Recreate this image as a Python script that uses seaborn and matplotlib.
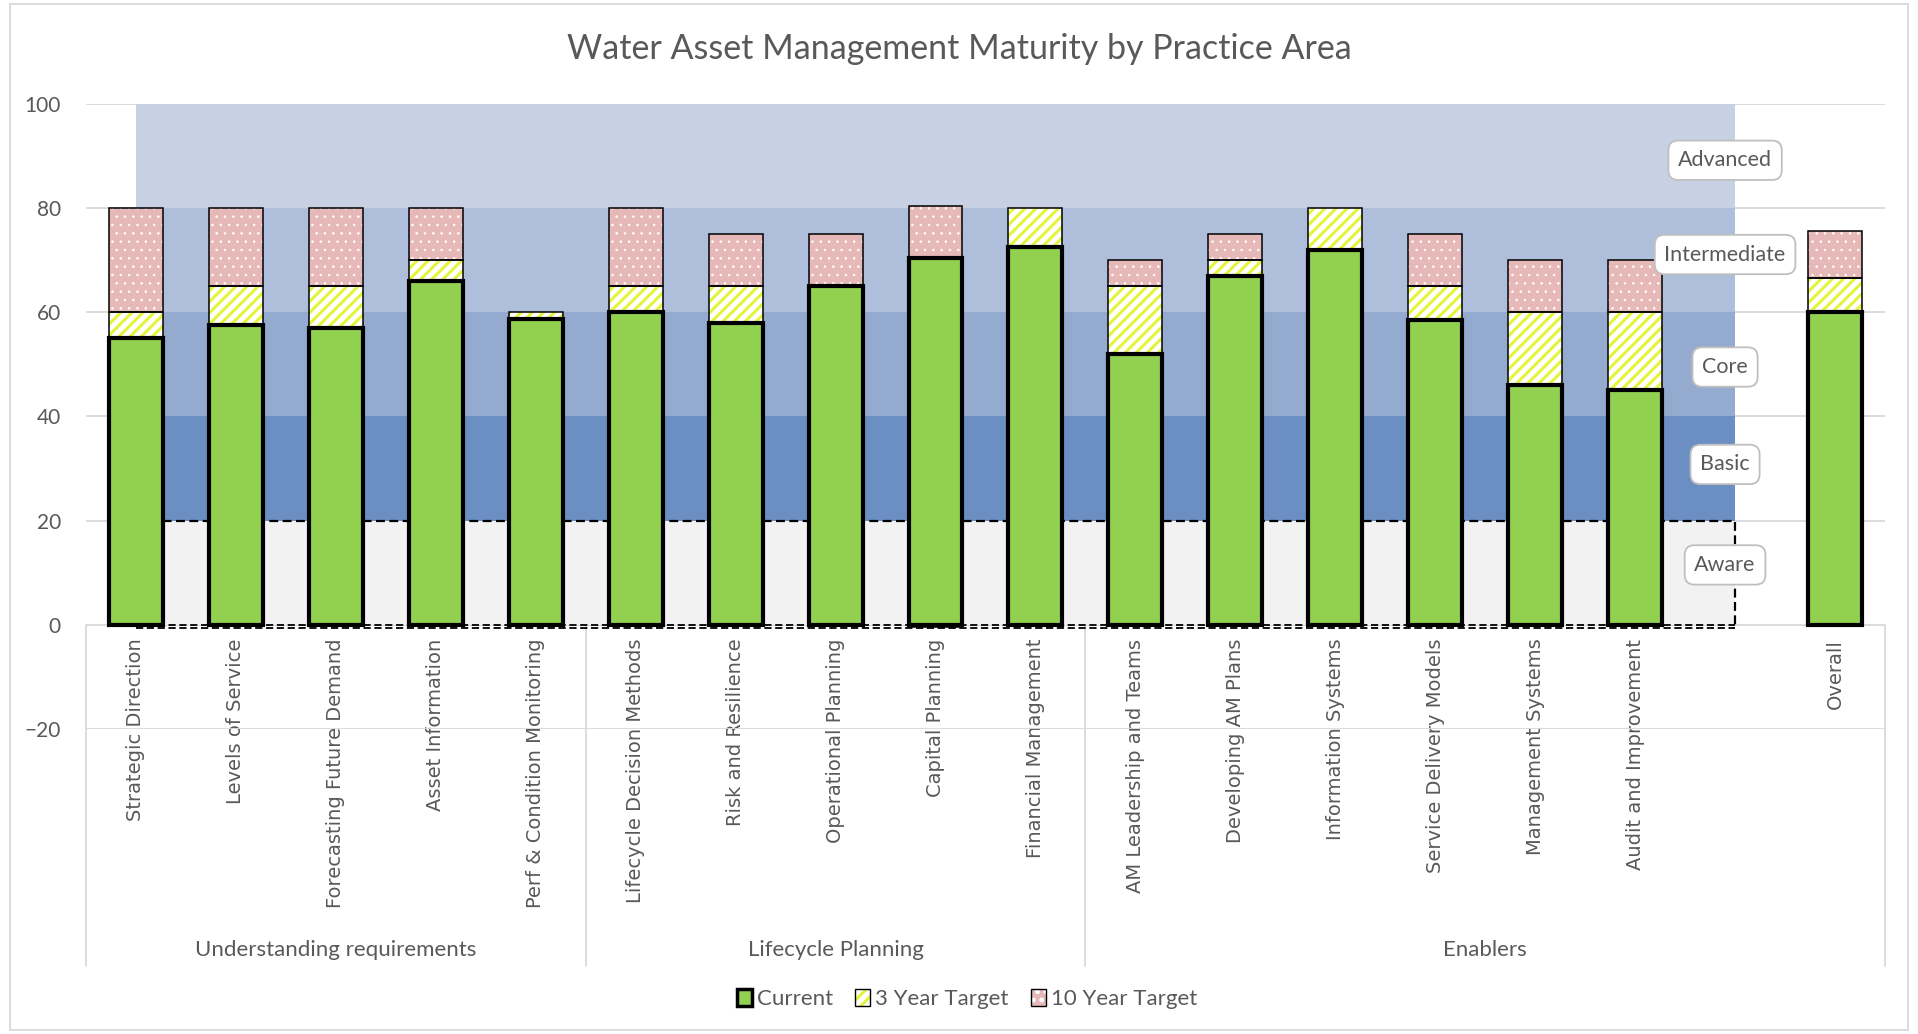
import matplotlib
matplotlib.use("Agg")
import matplotlib.pyplot as plt
import seaborn as sns
import pandas as pd
import numpy as np
from matplotlib.patches import Patch, Rectangle
from matplotlib.legend_handler import HandlerTuple

# ---- data -------------------------------------------------------------
practices = [
    "Strategic Direction", "Levels of Service", "Forecasting Future Demand",
    "Asset Information", "Perf & Condition Monitoring",
    "Lifecycle Decision Methods", "Risk and Resilience", "Operational Planning",
    "Capital Planning", "Financial Management",
    "AM Leadership and Teams", "Developing AM Plans", "Information Systems",
    "Service Delivery Models", "Management Systems", "Audit and Improvement",
    "Overall",
]
current = [55, 57.5, 57, 66, 58.8, 60, 58, 65, 70.4, 72.5,
           52, 67, 72, 58.6, 46, 45, 60.1]
target_3yr = [60, 65, 65, 70, 60, 65, 65, 65, 70, 80,
              65, 70, 80, 65, 60, 60, 66.6]
target_10yr = [80, 80, 80, 80, 60, 80, 75, 75, 80, 80,
               70, 75, 80, 75, 70, 70, 75.6]

groups = ["Understanding requirements", "Lifecycle Planning", "Enablers"]
group_sizes = [5, 5, 8]          # slots per group (Enablers includes gap + Overall)

levels = ["Aware", "Basic", "Core", "Intermediate", "Advanced"]
level_edges = [0, 20, 40, 60, 80, 100]
level_colors = ["#f2f2f2", "#6b8fc2", "#95aacf", "#afbfdb", "#c8d1e3"]

GREEN = "#92d050"
YELLOW = "#e4f43a"
PINK = "#e6b8b7"
TEXT = "#595959"
GRID = "#d9d9d9"

# ---- styling ----------------------------------------------------------
sns.set_theme(style="white")
plt.rcParams["font.family"] = ["Lato", "DejaVu Sans"]
plt.rcParams["hatch.linewidth"] = 2.2

fig = plt.figure(figsize=(19.18, 10.34), dpi=100)
ax = fig.add_axes([0.0448, 0.295, 0.9380, 0.6044])

# category slots: 16 practices, an empty gap, then Overall
slots = practices[:16] + [" "] + ["Overall"]
pos = {name: i for i, name in enumerate(slots)}
xs = np.array([pos[p] for p in practices], dtype=float)

df = pd.DataFrame({"practice": practices, "current": current})

# maturity bands behind the bars
band_x = [0, pos[" "]]
for lo, hi, col in zip(level_edges[:-1], level_edges[1:], level_colors):
    ax.fill_between(band_x, lo, hi, color=col, lw=0, zorder=1)

# dashed outline of the "Aware" band
ax.plot([band_x[0], band_x[1], band_x[1]], [20, 20, 0], color="black",
        lw=1.6, ls=(0, (4, 2)), zorder=1.6)
ax.plot(band_x, [0, 0], color="black", lw=1.3, ls=(0, (4, 2)), zorder=1.6)
ax.plot(band_x, [-0.6, -0.6], color="black", lw=1.3, ls=(0, (4, 2)), zorder=1.6)

BAR_W = 0.54
sns.barplot(data=df, x="practice", y="current", order=slots, color=GREEN,
            saturation=1, errorbar=None, width=BAR_W, edgecolor="black",
            linewidth=3.0, ax=ax, zorder=3)

cur = np.array(current, dtype=float)
t3 = np.array(target_3yr, dtype=float)
t10 = np.array(target_10yr, dtype=float)

d3 = t3 - cur
b3 = np.where(d3 >= 0, cur, 0.0)
top_pos = cur + np.clip(d3, 0, None)
d10 = t10 - t3
b10 = top_pos


def set_hatch_width(container, w):
    for p in container.patches:
        if hasattr(p, "set_hatch_linewidth"):
            p.set_hatch_linewidth(w)


m3 = np.abs(d3) > 1e-9
with plt.rc_context({"hatch.linewidth": 2.2}):
    stripes = ax.bar(xs[m3], d3[m3], bottom=b3[m3], width=BAR_W, color="white",
                     edgecolor=YELLOW, hatch="///", lw=0, zorder=2.4)
set_hatch_width(stripes, 2.2)
ax.bar(xs[m3], d3[m3], bottom=b3[m3], width=BAR_W, fill=False,
       edgecolor="black", lw=1.1, zorder=2.5)

m10 = np.abs(d10) > 1e-9
with plt.rc_context({"hatch.linewidth": 0.6}):
    dots = ax.bar(xs[m10], d10[m10], bottom=b10[m10], width=BAR_W, color=PINK,
                  edgecolor="white", hatch="..", lw=0, zorder=2.4)
set_hatch_width(dots, 0.6)
ax.bar(xs[m10], d10[m10], bottom=b10[m10], width=BAR_W, fill=False,
       edgecolor="black", lw=1.1, zorder=2.5)

# ---- axes -------------------------------------------------------------
ax.set_xlim(-0.5, len(slots) - 0.5)
ax.set_ylim(-20, 100)
ax.set_yticks(range(-20, 101, 20))
ax.set_axisbelow(True)
ax.grid(axis="y", color=GRID, lw=1.3)
ax.grid(axis="x", visible=False)
for s in ax.spines.values():
    s.set_visible(False)
ax.spines["bottom"].set_position(("data", 0))
ax.set_xlabel("")
ax.set_ylabel("")
ax.tick_params(axis="y", length=0, pad=18, labelsize=15, labelcolor=TEXT)
ax.tick_params(axis="x", length=0, pad=10, labelcolor=TEXT)
ax.set_xticks(range(len(slots)))
ax.set_xticklabels(slots, rotation=90, fontsize=14, family="DejaVu Sans",
                   color=TEXT, ha="center", va="top")

# group separators and labels below the category axis
edges = np.concatenate([[0], np.cumsum(group_sizes)]) - 0.5
for e in edges:
    ax.plot([e, e], [0, -65.5], color=GRID, lw=1.3, clip_on=False, zorder=0.5)
for name, lo, hi in zip(groups, edges[:-1], edges[1:]):
    ax.text((lo + hi) / 2, -62.4, name, ha="center", va="center",
            fontsize=16, color=TEXT)

# band name labels
label_y = [11.5, 30.8, 49.5, 71.1, 89.2]
for name, y in zip(levels, label_y):
    ax.text(15.9, y, name, ha="center", va="center", fontsize=15.5, color=TEXT,
            zorder=6,
            bbox=dict(boxstyle="round,pad=0.45,rounding_size=0.45",
                      fc="white", ec="#bfbfbf", lw=1.3))

# title
fig.text(0.5, 0.953, "Water Asset Management Maturity by Practice Area",
         ha="center", va="center", fontsize=24.5, color=TEXT)

# legend
h_cur = Patch(facecolor=GREEN, edgecolor="black", lw=2.5)
h_3 = (Patch(facecolor="white", edgecolor=YELLOW, hatch="///", lw=0),
       Patch(fill=False, edgecolor="black", lw=1))
h_10 = (Patch(facecolor=PINK, edgecolor="white", hatch="..", lw=0),
        Patch(fill=False, edgecolor="black", lw=1))
fig.legend([h_cur, h_3, h_10], ["Current", "3 Year Target", "10 Year Target"],
           handler_map={tuple: HandlerTuple(ndivide=1)},
           loc="center", bbox_to_anchor=(0.504, 0.034), ncol=3, frameon=False,
           fontsize=16, labelcolor=TEXT, handlelength=0.7, handleheight=0.85,
           handletextpad=0.2, columnspacing=1.0)

# chart border
fig.patches.append(Rectangle((0.005, 0.004), 0.99, 0.992, transform=fig.transFigure,
                             fill=False, ec=GRID, lw=1.3))

fig.savefig("out.png", dpi=100, facecolor="white")
